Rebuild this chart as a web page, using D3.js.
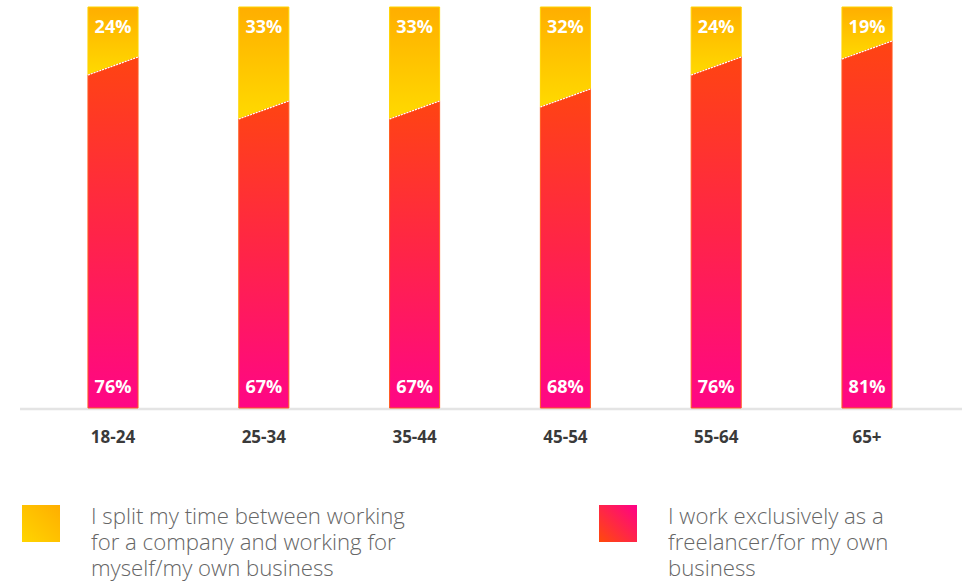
<!DOCTYPE html>
<html>
<head>
<meta charset="utf-8">
<style>
  body { margin: 0; background: #fff; }
  svg { display: block; font-family: "Open Sans", sans-serif; }
</style>
</head>
<body>
<svg width="962" height="582"></svg>
<script src="https://cdn.jsdelivr.net/npm/d3@7"></script>
<script>

	// Data.
	var ageGroups = ["18-24", "25-34", "35-44", "45-54", "55-64", "65+"];
	var splitTime = [24, 33, 33, 32, 24, 19];
	var exclusive = [76, 67, 67, 68, 76, 81];
	var legendSplit = ["I split my time between working", "for a company and working for", "myself/my own business"];
	var legendExcl = ["I work exclusively as a", "freelancer/for my own", "business"];

	var svg = d3.select("svg"),
		defs = svg.append("defs"),
		baseY = 408,
		slant = 18;

	// Band scale for the age groups.
	var x = d3.scaleBand()
		.domain(ageGroups)
		.range([37.6, 942.4])
		.paddingInner(0.668)
		.paddingOuter(0.334);

	// Full bar height (100%).
	var y = d3.scaleLinear().domain([0, 100]).range([baseY, 7]);

	// The split line in the original is not proportional, so it gets its own (piecewise) scale.
	var ySplit = d3.scaleLinear().domain([19, 24, 32, 33]).range([41, 57, 89, 101]);

	// Gradients.
	function grad(id, x1, y1, x2, y2, stops) {
		var gr = defs.append("linearGradient").attr("id", id)
			.attr("x1", x1).attr("y1", y1).attr("x2", x2).attr("y2", y2);
		stops.forEach(function(s) {
			gr.append("stop").attr("offset", s[0]).attr("stop-color", s[1]);
		});
	}
	grad("gYellow", 0, 0, 0, 1, [[0, "#ffae00"], [1, "#ffda00"]]);
	grad("gRed", 0, 0, 0, 1, [[0, "#ff4412"], [0.5, "#ff2448"], [1, "#ff0686"]]);
	grad("gYellowLeg", 0, 1, 1, 0, [[0, "#ffd500"], [1, "#ffae00"]]);
	grad("gRedLeg", 0, 1, 1, 0, [[0, "#ff4a0a"], [1, "#ff0088"]]);

	// Axis line.
	svg.append("line")
		.attr("x1", 20).attr("x2", 962)
		.attr("y1", baseY + 1).attr("y2", baseY + 1)
		.attr("stroke", "#e4e4e4").attr("stroke-width", 2.5);

	var rows = ageGroups.map(function(a, i) {
		return { age: a, split: splitTime[i], excl: exclusive[i] };
	});

	var bars = svg.selectAll(".bar")
		.data(rows)
		.enter().append("g").attr("class", "bar");

	// Yellow top part.
	bars.append("path")
		.attr("d", function(d) {
			var x0 = x(d.age), x1 = x0 + x.bandwidth(), top = y(100), yr = ySplit(d.split);
			return "M" + x0 + "," + top + "L" + x1 + "," + top + "L" + x1 + "," + yr + "L" + x0 + "," + (yr + slant) + "Z";
		})
		.attr("fill", "url(#gYellow)")
		.attr("stroke", "#ffd400").attr("stroke-width", 1);

	// Red bottom part.
	bars.append("path")
		.attr("d", function(d) {
			var x0 = x(d.age), x1 = x0 + x.bandwidth(), yr = ySplit(d.split);
			return "M" + x0 + "," + (yr + slant) + "L" + x1 + "," + yr + "L" + x1 + "," + y(0) + "L" + x0 + "," + y(0) + "Z";
		})
		.attr("fill", "url(#gRed)")
		.attr("stroke", "#ff5a1e").attr("stroke-width", 1);

	// Dashed white split line.
	bars.append("line")
		.attr("x1", function(d) { return x(d.age); })
		.attr("x2", function(d) { return x(d.age) + x.bandwidth(); })
		.attr("y1", function(d) { return ySplit(d.split) + slant; })
		.attr("y2", function(d) { return ySplit(d.split); })
		.attr("stroke", "#fff").attr("stroke-width", 1.2)
		.attr("stroke-dasharray", "2,1");

	// Value labels.
	bars.append("text")
		.attr("x", function(d) { return x(d.age) + x.bandwidth() / 2; })
		.attr("y", 33)
		.attr("text-anchor", "middle")
		.attr("fill", "#fff").attr("font-weight", 700).attr("font-size", 18)
		.text(function(d) { return d.split + "%"; });

	bars.append("text")
		.attr("x", function(d) { return x(d.age) + x.bandwidth() / 2; })
		.attr("y", 393)
		.attr("text-anchor", "middle")
		.attr("fill", "#fff").attr("font-weight", 700).attr("font-size", 18)
		.text(function(d) { return d.excl + "%"; });

	// Category axis.
	var axis = svg.append("g")
		.attr("transform", "translate(0," + 443 + ")")
		.call(d3.axisBottom(x).tickSize(0).tickPadding(0));
	axis.select(".domain").remove();
	axis.selectAll("text")
		.attr("dy", 0)
		.attr("fill", "#3a3a3a")
		.attr("font-family", "'Open Sans', sans-serif")
		.attr("font-weight", 700)
		.attr("font-size", 17);

	// Legend.
	function legend(xs, xt, fill, lines) {
		svg.append("rect")
			.attr("x", xs).attr("y", 505).attr("width", 38).attr("height", 37)
			.attr("fill", fill);
		svg.append("g").selectAll("text")
			.data(lines).enter().append("text")
			.attr("x", xt)
			.attr("y", function(d, i) { return 524 + i * 26; })
			.attr("fill", "#666").attr("font-size", 22.2).attr("font-weight", 300)
			.text(function(d) { return d; });
	}
	legend(22, 91, "url(#gYellowLeg)", legendSplit);
	legend(599, 668, "url(#gRedLeg)", legendExcl);

</script>
</body>
</html>
